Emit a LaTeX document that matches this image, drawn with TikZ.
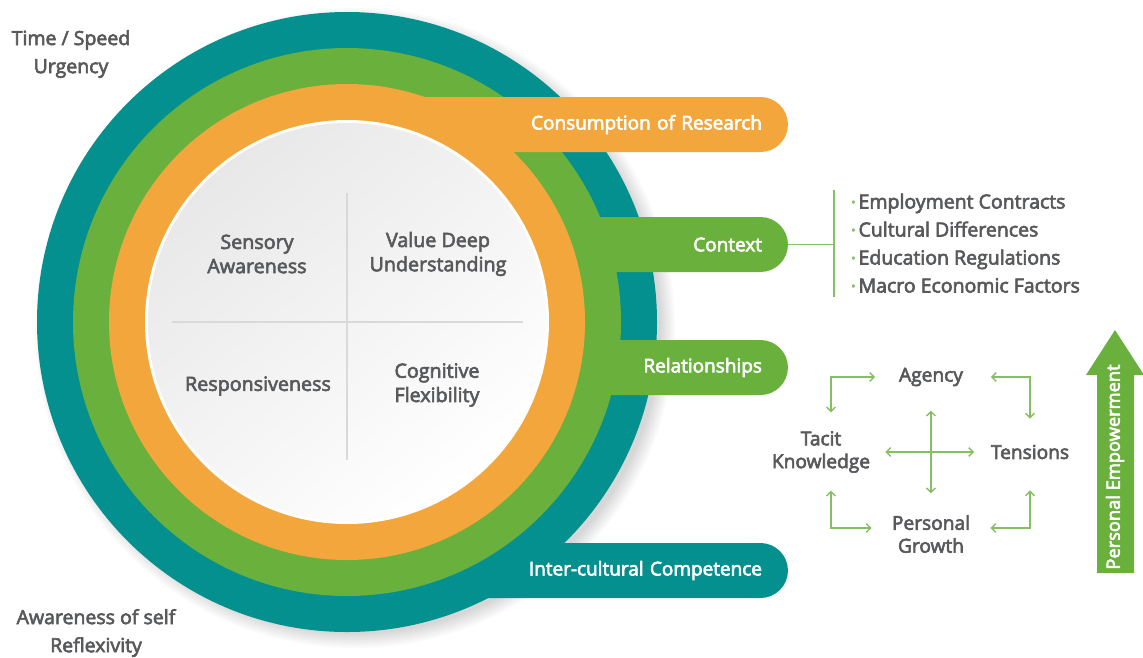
\documentclass[tikz,border=0pt]{standalone}
\usepackage{fontspec}
\setmainfont{Open Sans}
\newcommand{\heavy}{\special{pdf:literal direct 2 Tr 0.35 w}}
\usetikzlibrary{arrows.meta,positioning,calc}
\definecolor{ringteal}{HTML}{04908E}
\definecolor{ringgreen}{HTML}{6AB03C}
\definecolor{ringorange}{HTML}{F3A63B}
\definecolor{txtgrey}{HTML}{58595B}
\definecolor{linegreen}{HTML}{86BF63}
\tikzset{
  sidetxt/.style={text=txtgrey, align=center, font=\fontsize{11.1}{16}\selectfont\heavy},
  quadtxt/.style={text=txtgrey, align=center, font=\fontsize{11.2}{13.8}\selectfont\heavy},
  cyctxt/.style={text=txtgrey, align=center, inner sep=0pt, font=\fontsize{10.9}{13}\selectfont\heavy},
  listtxt/.style={text=txtgrey, inner sep=0pt, font=\fontsize{11.1}{13}\selectfont\heavy},
  band/.style={rounded corners=0.55cm, minimum height=1.1cm, minimum width=8.82cm,
    text width=7.78cm, align=right, inner xsep=0.52cm, text=white,
    font=\fontsize{10.8}{13}\selectfont\heavy},
  divider/.style={black!15, line width=0.8pt},
  branch/.style={linegreen, line width=0.9pt},
  cyc/.style={linegreen, line width=0.8pt,
    {Straight Barb[length=2.5pt,width=5pt]}-{Straight Barb[length=2.5pt,width=5pt]}}
}
\begin{document}
\begin{tikzpicture}[x=0.02cm, y=-0.02cm]
  \useasboundingbox[fill=white] (0,0) rectangle (1143,657);
  \coordinate (c) at (347,322);
  %--- Soft shadow
  \foreach \r in {0,...,7}
    \fill[black, opacity=0.018] ($(c)+(8,6)$) circle [radius=306+2*\r];
  %--- Rings and bands
  \fill[ringteal] (c) circle [radius=310];
  \node[band, fill=ringteal] (intercult) at (567.5,570.5) {Inter-cultural Competence};
  \fill[ringgreen] (c) circle [radius=274];
  \node[band, fill=ringgreen] (context) at (567.5,244.5) {Context};
  \node[band, fill=ringgreen] (relation) at (567.5,367.5) {Relationships};
  \fill[ringorange] (c) circle [radius=238];
  \node[band, fill=ringorange] (research) at (567.5,124.5) {Consumption of Research};
  \fill[white] (c) circle [radius=202];
  \shade[top color=black!9, bottom color=white, shading angle=40] (c) circle [radius=199];
  %--- Quadrants
  \draw[divider] (347,193) -- (347,460);
  \draw[divider] (172,322) -- (523,322);
  \node[quadtxt] (sensory) at (257,254) {Sensory\\Awareness};
  \node[quadtxt] (value) at (438,254) {Value Deep\\Understanding};
  \node[quadtxt] (respons) at (258,386) {Responsiveness};
  \node[quadtxt] (cognit) at (437,385) {Cognitive\\Flexibility};
  %--- Side labels
  \node[sidetxt] (time) at (71,54) {Time / Speed\\Urgency};
  \node[sidetxt] (aware) at (96,633) {Awareness of self\\Reflexivity};
  %--- Context list
  \coordinate (bartop) at (834,190);
  \coordinate (barbot) at (834,297);
  \draw[branch] (bartop) -- (barbot);
  \draw[branch] (context.east) -- (context.east -| bartop);
  \foreach \t [count=\i] in {Employment Contracts, Cultural Differences,
      Education Regulations, Macro Economic Factors}
    \node[listtxt, anchor=base west] (item\i) at (851,180.5+28*\i)
      {\textcolor{linegreen}{\raisebox{0.25ex}{\fontsize{6}{6}\selectfont•}}\,\t};
  %--- Cycle
  \node[cyctxt] (agency) at (931,377) {Agency};
  \node[cyctxt] (tacit) at (821,452) {Tacit\\Knowledge};
  \node[cyctxt] (tensions) at (1030,452) {Tensions};
  \node[cyctxt] (growth) at (931,534) {Personal\\Growth};
  \draw[cyc, shorten <=0.48cm, shorten >=0.43cm] (agency.south) -- (growth.north);
  \draw[cyc, shorten <=0.30cm, shorten >=0.33cm] (tacit.east) -- (tensions.west);
  \draw[cyc, shorten <=0.37cm, shorten >=0.47cm] ([xshift=0.2cm]tacit.north) |- (agency.west);
  \draw[cyc, shorten <=0.55cm, shorten >=0.52cm] (agency.east) -| (tensions.north);
  \draw[cyc, shorten <=0.35cm, shorten >=0.40cm] ([xshift=0.2cm]tacit.south) |- ([yshift=0.12cm]growth.west);
  \draw[cyc, shorten <=0.40cm, shorten >=0.62cm] ([yshift=0.12cm]growth.east) -| (tensions.south);
  %--- Empowerment arrow
  \fill[ringgreen] (1097,573) -- (1097,375) -- (1086,375) -- (1115,330)
    -- (1144,375) -- (1134,375) -- (1134,573) -- cycle;
  \node[rotate=90, text=white, font=\fontsize{10.4}{12}\selectfont\heavy] (empower)
    at (1115,467) {Personal Empowerment};
\end{tikzpicture}
\end{document}
